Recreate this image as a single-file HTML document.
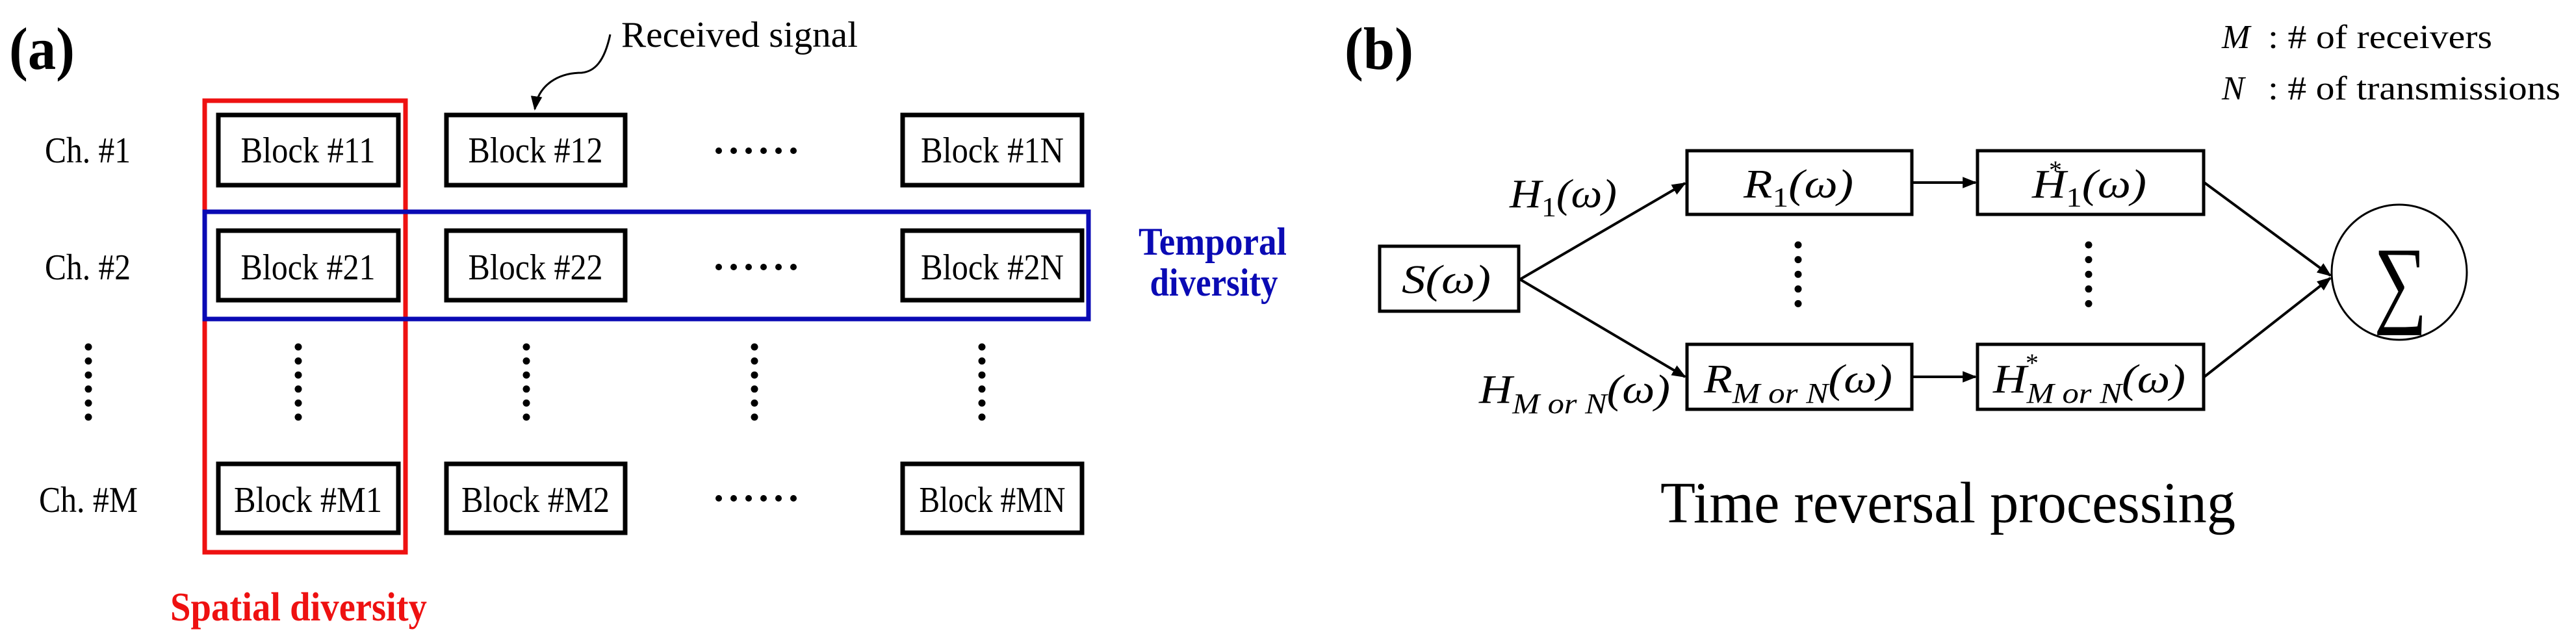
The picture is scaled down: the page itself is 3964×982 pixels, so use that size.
<!DOCTYPE html>
<html><head><meta charset="utf-8"><style>html,body{margin:0;padding:0;background:#fff}svg{display:block}</style></head>
<body>
<svg width="3964" height="982" viewBox="0 0 3964 982" xmlns="http://www.w3.org/2000/svg" font-family="Liberation Serif, serif">
<defs>
<marker id="ah" viewBox="0 0 10 10" refX="9" refY="5" markerWidth="6" markerHeight="6" orient="auto" markerUnits="userSpaceOnUse"><path d="M0,0 L10,5 L0,10 z" fill="#000"/></marker>
<marker id="a2" viewBox="0 0 10 10" refX="9" refY="5" markerWidth="22" markerHeight="22" orient="auto" markerUnits="userSpaceOnUse"><path d="M0,1 L10,5 L0,9 z" fill="#000"/></marker>
</defs>
<!-- (a) -->
<text x="14" y="106" font-size="92" font-weight="bold" textLength="101" lengthAdjust="spacingAndGlyphs">(a)</text>
<text x="956" y="72" font-size="56" textLength="364" lengthAdjust="spacingAndGlyphs">Received signal</text>
<path d="M939,53 C930,95 915,110 895,112 C860,112 828,130 823,168" fill="none" stroke="#000" stroke-width="3" marker-end="url(#a2)"/>
<g font-size="56" text-anchor="middle">
<text x="135" y="250" textLength="132" lengthAdjust="spacingAndGlyphs">Ch. #1</text>
<text x="135" y="430" textLength="132" lengthAdjust="spacingAndGlyphs">Ch. #2</text>
<text x="136" y="788" textLength="152" lengthAdjust="spacingAndGlyphs">Ch. #M</text>
</g>
<g fill="none" stroke="#000" stroke-width="7">
<rect x="336" y="177" width="277" height="108"/><rect x="687" y="177" width="275" height="108"/><rect x="1389" y="177" width="276" height="108"/>
<rect x="336" y="355" width="277" height="107"/><rect x="687" y="355" width="275" height="107"/><rect x="1389" y="355" width="276" height="107"/>
<rect x="336" y="714" width="277" height="106"/><rect x="687" y="714" width="275" height="106"/><rect x="1389" y="714" width="276" height="106"/>
</g>
<g font-size="56" text-anchor="middle">
<text x="474" y="250" textLength="207" lengthAdjust="spacingAndGlyphs">Block #11</text>
<text x="824" y="250" textLength="207" lengthAdjust="spacingAndGlyphs">Block #12</text>
<text x="1527" y="250" textLength="220" lengthAdjust="spacingAndGlyphs">Block #1N</text>
<text x="474" y="430" textLength="207" lengthAdjust="spacingAndGlyphs">Block #21</text>
<text x="824" y="430" textLength="207" lengthAdjust="spacingAndGlyphs">Block #22</text>
<text x="1527" y="430" textLength="220" lengthAdjust="spacingAndGlyphs">Block #2N</text>
<text x="474" y="788" textLength="228" lengthAdjust="spacingAndGlyphs">Block #M1</text>
<text x="824" y="788" textLength="228" lengthAdjust="spacingAndGlyphs">Block #M2</text>
<text x="1527" y="788" textLength="225" lengthAdjust="spacingAndGlyphs">Block #MN</text>
</g>
<g fill="#000">
<circle cx="1106" cy="232" r="5"/><circle cx="1129" cy="232" r="5"/><circle cx="1152" cy="232" r="5"/><circle cx="1175" cy="232" r="5"/><circle cx="1198" cy="232" r="5"/><circle cx="1221" cy="232" r="5"/>
<circle cx="1106" cy="411" r="5"/><circle cx="1129" cy="411" r="5"/><circle cx="1152" cy="411" r="5"/><circle cx="1175" cy="411" r="5"/><circle cx="1198" cy="411" r="5"/><circle cx="1221" cy="411" r="5"/>
<circle cx="1106" cy="767" r="5"/><circle cx="1129" cy="767" r="5"/><circle cx="1152" cy="767" r="5"/><circle cx="1175" cy="767" r="5"/><circle cx="1198" cy="767" r="5"/><circle cx="1221" cy="767" r="5"/>
</g>
<g stroke="#000" stroke-width="11" stroke-linecap="round" stroke-dasharray="0 21.6">
<line x1="136" y1="534" x2="136" y2="645"/><line x1="459" y1="534" x2="459" y2="645"/><line x1="810" y1="534" x2="810" y2="645"/><line x1="1161" y1="534" x2="1161" y2="645"/><line x1="1511" y1="534" x2="1511" y2="645"/>
</g>
<rect x="315" y="155" width="309" height="695" fill="none" stroke="#ee1111" stroke-width="7"/>
<rect x="315" y="326" width="1360" height="165" fill="none" stroke="#0a0ab4" stroke-width="7"/>
<text x="262" y="955" font-size="62" font-weight="bold" fill="#ee1111" textLength="395" lengthAdjust="spacingAndGlyphs">Spatial diversity</text>
<g font-size="60" font-weight="bold" fill="#0a0ab4" text-anchor="middle">
<text x="1866" y="392" textLength="228" lengthAdjust="spacingAndGlyphs">Temporal</text>
<text x="1868" y="455" textLength="197" lengthAdjust="spacingAndGlyphs">diversity</text>
</g>
<!-- (b) -->
<text x="2069" y="106" font-size="92" font-weight="bold" textLength="106" lengthAdjust="spacingAndGlyphs">(b)</text>
<g font-size="52">
<text x="3419" y="74" font-style="italic">M</text>
<text x="3490" y="74" textLength="345" lengthAdjust="spacingAndGlyphs">: # of receivers</text>
<text x="3419" y="153" font-style="italic">N</text>
<text x="3490" y="153" textLength="450" lengthAdjust="spacingAndGlyphs">: # of transmissions</text>
</g>
<g fill="none" stroke="#000" stroke-width="5">
<rect x="2123" y="379" width="214" height="100"/>
<rect x="2596" y="232" width="346" height="98"/>
<rect x="3043" y="232" width="348" height="98"/>
<rect x="2596" y="530" width="346" height="100"/>
<rect x="3043" y="530" width="348" height="100"/>
<ellipse cx="3692" cy="419" rx="104" ry="104" stroke-width="3"/>
</g>
<g stroke="#000" stroke-width="4" fill="none">
<line x1="2339" y1="430" x2="2593" y2="282" marker-end="url(#a2)"/>
<line x1="2339" y1="430" x2="2593" y2="580" marker-end="url(#a2)"/>
<line x1="2942" y1="281" x2="3040" y2="281" marker-end="url(#a2)"/>
<line x1="2942" y1="580" x2="3040" y2="580" marker-end="url(#a2)"/>
<line x1="3392" y1="281" x2="3586" y2="424" marker-end="url(#a2)"/>
<line x1="3392" y1="580" x2="3586" y2="428" marker-end="url(#a2)"/>
</g>
<g stroke="#000" stroke-width="11" stroke-linecap="round" stroke-dasharray="0 22.6">
<line x1="2767" y1="377" x2="2767" y2="490"/><line x1="3214" y1="377" x2="3214" y2="490"/>
</g>
<g font-size="62" font-style="italic">
<text x="2157" y="451" textLength="137" lengthAdjust="spacingAndGlyphs">S(ω)</text>
<text x="2683" y="304" textLength="169" lengthAdjust="spacingAndGlyphs">R<tspan font-size="42" dy="14" font-style="normal">1</tspan><tspan dy="-14">(ω)</tspan></text>
<text x="3127" y="304" textLength="176" lengthAdjust="spacingAndGlyphs">H<tspan font-size="42" dy="14" font-style="normal">1</tspan><tspan dy="-14">(ω)</tspan></text>
<text x="3153" y="275" font-size="40" font-style="normal">*</text>
<text x="2323" y="319" textLength="165" lengthAdjust="spacingAndGlyphs">H<tspan font-size="42" dy="14" font-style="normal">1</tspan><tspan dy="-14">(ω)</tspan></text>
<text x="2622" y="604" textLength="290" lengthAdjust="spacingAndGlyphs">R<tspan font-size="44" dy="16">M or N</tspan><tspan dy="-16">(ω)</tspan></text>
<text x="3067" y="604" textLength="296" lengthAdjust="spacingAndGlyphs">H<tspan font-size="44" dy="16">M or N</tspan><tspan dy="-16">(ω)</tspan></text>
<text x="3117" y="572" font-size="40" font-style="normal">*</text>
<text x="2276" y="620" textLength="294" lengthAdjust="spacingAndGlyphs">H<tspan font-size="44" dy="16">M or N</tspan><tspan dy="-16">(ω)</tspan></text>
</g>
<text x="3694" y="484" font-size="150" text-anchor="middle" textLength="82" lengthAdjust="spacingAndGlyphs">∑</text>
<text x="2555" y="804" font-size="90" textLength="885" lengthAdjust="spacingAndGlyphs">Time reversal processing</text>
</svg>
</body></html>
